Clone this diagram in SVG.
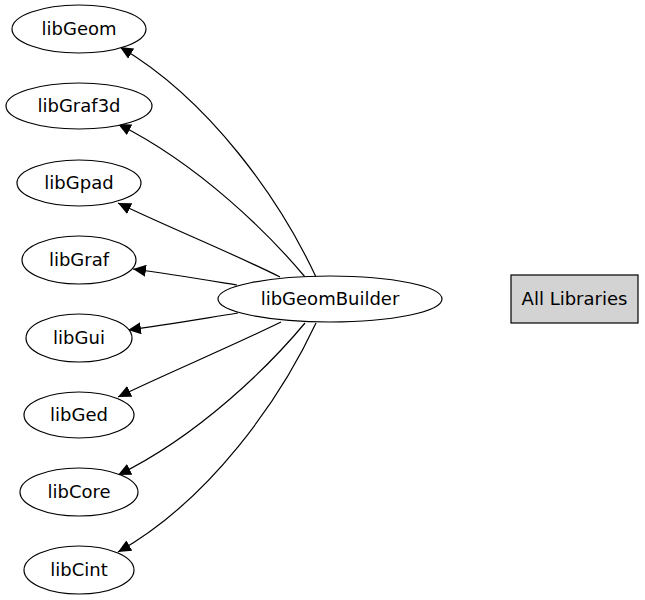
<svg xmlns="http://www.w3.org/2000/svg" width="645" height="600" viewBox="0 0 645 600">
<style>
.n ellipse{fill:#fff;stroke:#000;stroke-width:1.2}
.n rect{fill:#d3d3d3;stroke:#000;stroke-width:1.2}
text{font-family:"DejaVu Sans",sans-serif;font-size:18px;text-anchor:middle;fill:#000}
.e path{fill:none;stroke:#000;stroke-width:1.2;marker-end:url(#ah)}
</style>
<defs>
<marker id="ah" markerUnits="userSpaceOnUse" markerWidth="14" markerHeight="12" viewBox="0 0 14 12" refX="13" refY="6" orient="auto">
<path d="M0,0 L13,6 L0,12 Z" fill="#000"/>
</marker>
</defs>
<rect width="645" height="600" fill="#fff"/>
<g class="e" id="connectors">
<path d="M316,277 C280,200 210,100 120,47"/>
<path d="M305,277 C270,235 200,165 118,124"/>
<path d="M280,277 C230,252 170,228 118,203"/>
<path d="M237,285 C200,279 170,274 133,269"/>
<path d="M238,313 C200,319 165,325 128,330"/>
<path d="M281,322 C230,347 170,372 118,397"/>
<path d="M305,323 C270,365 200,435 118,475"/>
<path d="M316,323 C280,400 210,500 118,552"/>
</g>
<g class="n" id="libGeom"><ellipse cx="79" cy="29" rx="67" ry="24"/><text x="79" y="35">libGeom</text></g>
<g class="n" id="libGraf3d"><ellipse cx="79" cy="106" rx="73" ry="23"/><text x="79" y="112">libGraf3d</text></g>
<g class="n" id="libGpad"><ellipse cx="79" cy="183" rx="62" ry="23"/><text x="79" y="189">libGpad</text></g>
<g class="n" id="libGraf"><ellipse cx="79" cy="260" rx="57" ry="24"/><text x="79" y="266">libGraf</text></g>
<g class="n" id="libGui"><ellipse cx="79" cy="338" rx="53" ry="24"/><text x="79" y="344">libGui</text></g>
<g class="n" id="libGed"><ellipse cx="79" cy="415" rx="55" ry="23"/><text x="79" y="421">libGed</text></g>
<g class="n" id="libCore"><ellipse cx="79" cy="492" rx="59" ry="24"/><text x="79" y="498">libCore</text></g>
<g class="n" id="libCint"><ellipse cx="79" cy="570" rx="55" ry="24"/><text x="79" y="576">libCint</text></g>
<g class="n" id="libGeomBuilder"><ellipse cx="330" cy="299" rx="112" ry="23"/><text x="330" y="305">libGeomBuilder</text></g>
<g class="n" id="AllLibraries"><rect x="511" y="275" width="127" height="48"/><text x="574.5" y="305">All Libraries</text></g>
</svg>
